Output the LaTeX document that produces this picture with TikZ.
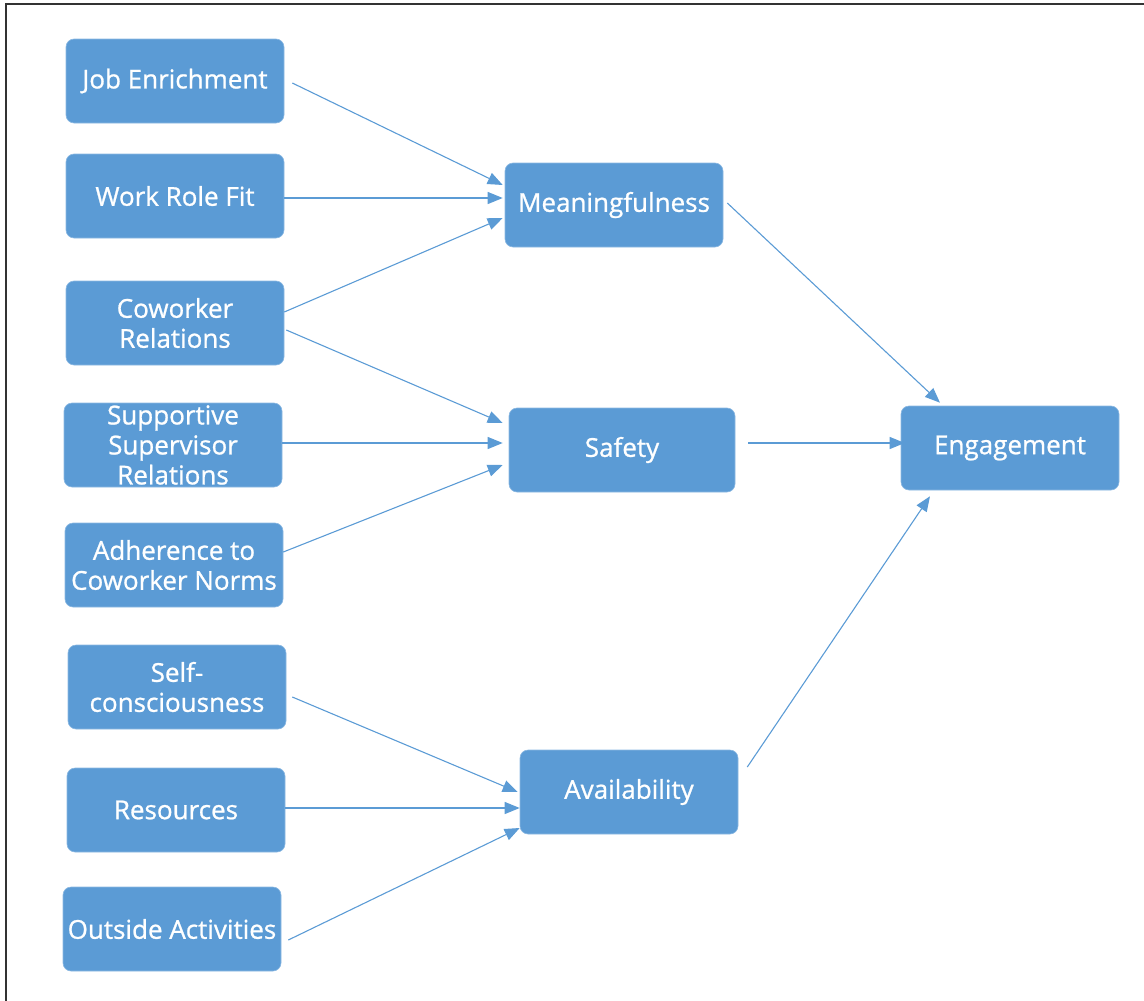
\documentclass[tikz,border=0pt]{standalone}
\usepackage{fontspec}
\setmainfont{Open Sans}
\newfontfamily\boxfont[FakeBold=0.9]{Open Sans}
\usetikzlibrary{arrows.meta}
\definecolor{boxblue}{HTML}{5B9BD5}
\definecolor{framegray}{HTML}{333333}
\begin{document}
\begin{tikzpicture}[x=1pt,y=-1pt,
  box/.style={fill=boxblue, draw=boxblue!70!white, line width=0.6pt,
    rounded corners=8pt, minimum width=218pt, minimum height=84pt,
    inner sep=0pt, align=center, text=white,
    font=\boxfont\fontsize{26}{30}\selectfont},
  link/.style={draw=boxblue, line width=1.1pt,
    -{Triangle[length=15pt,width=12pt]}}]
\useasboundingbox (0,0) rectangle (1144,1001);
% frame
\draw[framegray, line width=1.6pt] (6,1001) -- (6,4) -- (1144,4);

% predictors
\node[box] (je) at (175,81) {Job Enrichment};
\node[box] (wrf) at (175,196) {Work Role Fit};
\node[box] (cr) at (175,323) {Coworker\\Relations};
\node[box] (ssr) at (173,445) {Supportive\\Supervisor\\Relations};
\node[box] (acn) at (174,565) {Adherence to\\Coworker Norms};
\node[box] (sc) at (177,687) {Self-\\consciousness};
\node[box] (res) at (176,810) {Resources};
\node[box] (oa) at (172,929) {Outside Activities};

% psychological conditions
\node[box] (mea) at (614,205) {Meaningfulness};
\node[box, minimum width=226pt] (saf) at (622,450) {Safety};
\node[box] (ava) at (629,792) {Availability};

% outcome
\node[box] (eng) at (1010,448) {Engagement};

% connectors
\draw[link] ([shift={(8,2)}]je.east) -- ([shift={(-2,-20)}]mea.west);
\draw[link] ([shift={(0,2)}]wrf.east) -- ([shift={(-2,-7)}]mea.west);
\draw[link] ([shift={(0,-11)}]cr.east) -- ([shift={(-2,13)}]mea.west);
\draw[link] ([shift={(2,7)}]cr.east) -- ([shift={(-6,-27)}]saf.west);
\draw[link] ([shift={(0,-2)}]ssr.east) -- ([shift={(-6,-7)}]saf.west);
\draw[link] ([shift={(0,-13)}]acn.east) -- ([shift={(-6,15)}]saf.west);
\draw[link] ([shift={(4,-2)}]mea.east) -- ([shift={(-70,-3)}]eng.north);
\draw[link] ([shift={(13,-7)}]saf.east) -- ([shift={(4,-5)}]eng.west);
\draw[link] ([shift={(9,-25)}]ava.east) -- ([shift={(-80,6)}]eng.south);
\draw[link] ([shift={(6,10)}]sc.east) -- ([shift={(-2,0)}]ava.west);
\draw[link] ([shift={(0,-2)}]res.east) -- ([shift={(0,16)}]ava.west);
\draw[link] ([shift={(7,11)}]oa.east) -- ([shift={(0,36)}]ava.west);
\end{tikzpicture}
\end{document}
